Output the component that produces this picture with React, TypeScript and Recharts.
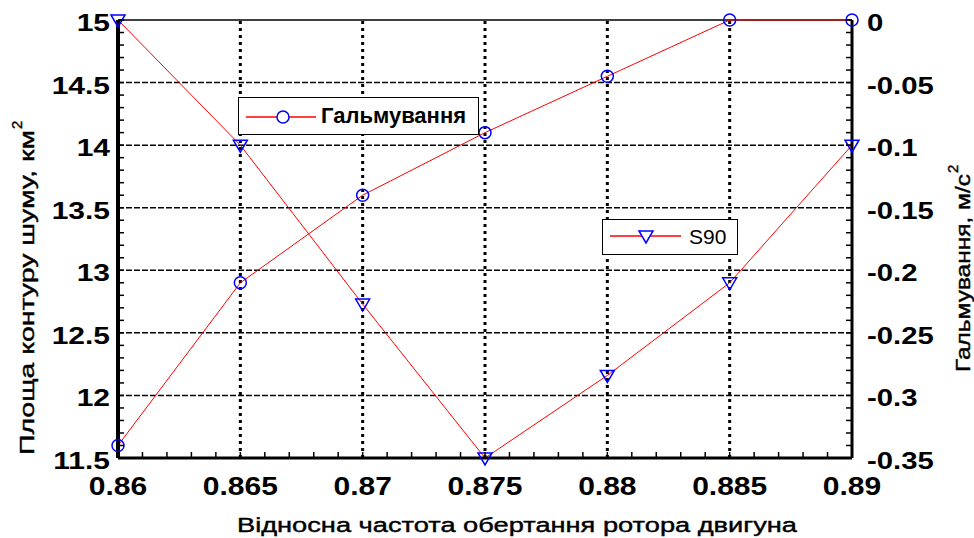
import { LineChart, Line, XAxis, YAxis, ReferenceLine } from 'recharts'

const freq = [0.86, 0.865, 0.87, 0.875, 0.88, 0.885, 0.89]
const brakeValues = [-0.34, -0.21, -0.14, -0.09, -0.045, 0, 0]
const s90Values = [15, 14, 12.73, 11.5, 12.16, 12.9, 14]

const xMajor = [0.86, 0.865, 0.87, 0.875, 0.88, 0.885, 0.89]
const leftMajor = [11.5, 12, 12.5, 13, 13.5, 14, 14.5, 15]
const rightMajor = [-0.35, -0.3, -0.25, -0.2, -0.15, -0.1, -0.05, 0]

// minor tick steps
const xMinor = Array.from({ length: 31 }, (_, i) => Number((0.86 + i * 0.001).toFixed(3)))
const leftMinor = Array.from({ length: 36 }, (_, i) => Number((11.5 + i * 0.1).toFixed(1)))
const rightMinor = Array.from({ length: 36 }, (_, i) => Number((-0.35 + i * 0.01).toFixed(2)))

const data = freq.map((x, i) => ({ x, brake: brakeValues[i], s90: s90Values[i] }))

const PLOT = { left: 118, right: 852, top: 20, bottom: 458 }
const FONT = "Arial, 'Liberation Sans', sans-serif"
const BLUE = '#0000ff'
const RED = '#ff0000'

const onStep = (v: number, step: number) => Math.abs(v / step - Math.round(v / step)) < 1e-6

const LeftTick = (props: any) => {
	const { y, payload } = props
	const v = payload.value
	return (
		<g>
			<line x1={PLOT.left} x2={PLOT.left + 6} y1={y} y2={y} stroke="#000" strokeWidth={1.5} />
			{onStep(v, 0.5) && (
				<text
					transform={`translate(${PLOT.left - 8},${y + 11}) scale(1.25,1)`}
					textAnchor="end"
					fontFamily={FONT}
					fontWeight="bold"
					fontSize={24}
					fill="#000"
				>
					{String(v)}
				</text>
			)}
		</g>
	)
}

const RightTick = (props: any) => {
	const { y, payload } = props
	const v = payload.value
	return (
		<g>
			<line x1={PLOT.right} x2={PLOT.right - 6} y1={y} y2={y} stroke="#000" strokeWidth={1.5} />
			{onStep(v, 0.05) && (
				<text
					transform={`translate(${PLOT.right + 15},${y + 11}) scale(1.22,1)`}
					textAnchor="start"
					fontFamily={FONT}
					fontWeight="bold"
					fontSize={24}
					fill="#000"
				>
					{String(v)}
				</text>
			)}
		</g>
	)
}

const BottomTick = (props: any) => {
	const { x, payload } = props
	const v = payload.value
	return (
		<g>
			<line x1={x} x2={x} y1={PLOT.bottom} y2={PLOT.bottom - 6} stroke="#000" strokeWidth={1.5} />
			{onStep(v, 0.005) && (
				<text
					transform={`translate(${x},${PLOT.bottom + 37}) scale(1.2,1)`}
					textAnchor="middle"
					fontFamily={FONT}
					fontWeight="bold"
					fontSize={25}
					fill="#000"
				>
					{String(v)}
				</text>
			)}
		</g>
	)
}

const CircleDot = (props: any) => {
	const { cx, cy, index } = props
	return <circle key={`c${index}`} cx={cx} cy={cy} r={6} fill="none" stroke={BLUE} strokeWidth={1.5} />
}

const TriangleDot = (props: any) => {
	const { cx, cy, index } = props
	return (
		<path
			key={`t${index}`}
			d={`M${cx - 7},${cy - 5} L${cx + 7},${cy - 5} L${cx},${cy + 7} Z`}
			fill="none"
			stroke={BLUE}
			strokeWidth={1.5}
		/>
	)
}

const titleStyle = { stroke: '#000', strokeWidth: 0.4 }

export default function App() {
	return (
		<div
			style={{
				position: 'absolute',
				left: 0,
				top: 0,
				width: 974,
				height: 538,
				background: '#fff',
				fontFamily: FONT
			}}
		>
			<LineChart width={974} height={538} data={data} margin={{ top: 20, right: 0, bottom: 0, left: 0 }}>
				<XAxis
					dataKey="x"
					type="number"
					domain={[0.86, 0.89]}
					ticks={xMinor}
					interval={0}
					height={80}
					tickLine={false}
					axisLine={{ stroke: '#000', strokeWidth: 3 }}
					tick={<BottomTick />}
				/>
				<YAxis
					yAxisId="left"
					orientation="left"
					domain={[11.5, 15]}
					ticks={leftMinor}
					interval={0}
					width={118}
					tickLine={false}
					axisLine={{ stroke: '#000', strokeWidth: 4 }}
					tick={<LeftTick />}
				/>
				<YAxis
					yAxisId="right"
					orientation="right"
					domain={[-0.35, 0]}
					ticks={rightMinor}
					interval={0}
					width={122}
					tickLine={false}
					axisLine={{ stroke: '#000', strokeWidth: 3 }}
					tick={<RightTick />}
				/>

				{leftMajor.slice(1, -1).map((v) => (
					<ReferenceLine key={`h${v}`} yAxisId="left" y={v} stroke="#000" strokeWidth={1.5} strokeDasharray="6 2" />
				))}
				<ReferenceLine yAxisId="left" y={15} stroke="#000" strokeWidth={1.5} />
				{xMajor.slice(1, -1).map((v) => (
					<ReferenceLine key={`v${v}`} yAxisId="left" x={v} stroke="#000" strokeWidth={3} strokeDasharray="3 4" />
				))}

				<Line
					yAxisId="left"
					dataKey="s90"
					stroke={RED}
					strokeWidth={1}
					dot={<TriangleDot />}
					isAnimationActive={false}
				/>
				<Line
					yAxisId="right"
					dataKey="brake"
					stroke={RED}
					strokeWidth={1}
					dot={<CircleDot />}
					isAnimationActive={false}
				/>
			</LineChart>

			{/* legends */}
			<div
				style={{
					position: 'absolute',
					left: 238,
					top: 97,
					width: 241,
					height: 38,
					boxSizing: 'border-box',
					border: '1.5px solid #000',
					background: '#fff'
				}}
			>
				<svg width={80} height={36} style={{ position: 'absolute', left: 5, top: 0 }}>
					<line x1={2} x2={72} y1={19} y2={19} stroke={RED} strokeWidth={1.5} />
					<circle cx={39} cy={19} r={6} fill="#fff" stroke={BLUE} strokeWidth={1.5} />
				</svg>
				<span
					style={{
						position: 'absolute',
						left: 82,
						top: 5,
						fontSize: 22,
						fontWeight: 'bold',
						lineHeight: '26px'
					}}
				>
					Гальмування
				</span>
			</div>
			<div
				style={{
					position: 'absolute',
					left: 602,
					top: 219,
					width: 136,
					height: 36,
					boxSizing: 'border-box',
					border: '1.5px solid #000',
					background: '#fff'
				}}
			>
				<svg width={80} height={34} style={{ position: 'absolute', left: 5, top: 0 }}>
					<line x1={2} x2={73} y1={16} y2={16} stroke={RED} strokeWidth={1.5} />
					<path d="M31,11 L45,11 L38,23 Z" fill="#fff" stroke={BLUE} strokeWidth={1.5} />
				</svg>
				<span style={{ position: 'absolute', left: 86, top: 4, fontSize: 21, lineHeight: '26px' }}>S90</span>
			</div>

			{/* axis titles */}
			<svg width={974} height={538} style={{ position: 'absolute', left: 0, top: 0, pointerEvents: 'none' }}>
				<text
					transform="translate(34,455) rotate(-90)"
					fontFamily={FONT}
					fontSize={21}
					textLength={325}
					lengthAdjust="spacingAndGlyphs"
					fill="#000"
					{...titleStyle}
				>
					Площа контуру шуму, км
				</text>
				<text transform="translate(22,129) rotate(-90)" fontFamily={FONT} fontSize={15} fill="#000" {...titleStyle}>
					2
				</text>
				<text
					transform="translate(970,372) rotate(-90)"
					fontFamily={FONT}
					fontSize={20}
					textLength={198}
					lengthAdjust="spacingAndGlyphs"
					fill="#000"
					{...titleStyle}
				>
					Гальмування, м/с
				</text>
				<text transform="translate(958,173) rotate(-90)" fontFamily={FONT} fontSize={15} fill="#000" {...titleStyle}>
					2
				</text>
				<text
					x={237}
					y={532}
					fontFamily={FONT}
					fontSize={20}
					textLength={560}
					lengthAdjust="spacingAndGlyphs"
					fill="#000"
					{...titleStyle}
				>
					Відносна частота обертання ротора двигуна
				</text>
			</svg>
		</div>
	)
}
